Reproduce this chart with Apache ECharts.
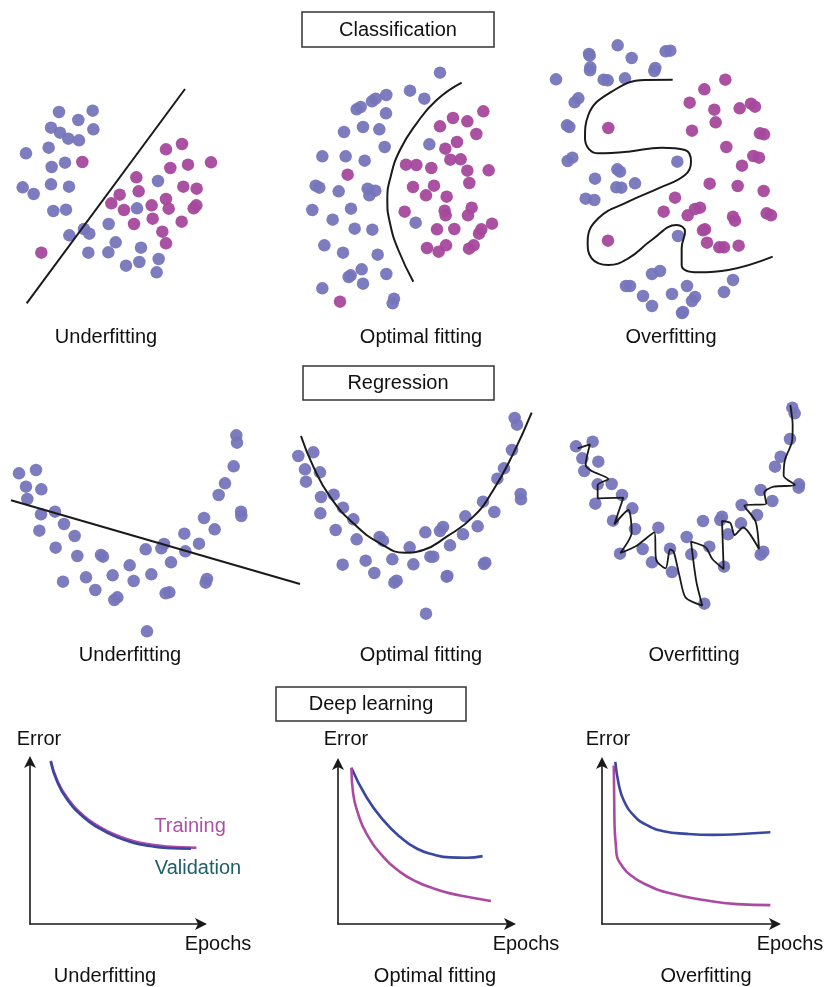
<!DOCTYPE html>
<html>
<head>
<meta charset="utf-8">
<script src="https://cdn.jsdelivr.net/npm/echarts@6/dist/echarts.min.js"></script>
<style>html,body{margin:0;padding:0;background:#fff}#c{width:826px;height:987px}</style>
</head>
<body>
<div id="c"></div>
<script>
// ---------- Classification: underfitting ----------
const clsUnderBlue = [[177,96],[235,120],[278,92],[153,143],[180,158],[205,176],[237,181],[280,148],[78,220],[146,203],[155,261],[195,248],[68,322],[101,342],[153,313],[207,320],[160,393],[198,389],[252,447],[268,461],[208,466],[265,518],[325,517],[326,432],[347,487],[411,385],[474,303],[423,503],[418,546],[378,557],[476,537],[470,577]];
const clsUnderPurple = [[247,246],[498,208],[546,192],[511,264],[564,254],[633,247],[409,292],[416,334],[359,344],[334,370],[372,390],[402,432],[455,376],[458,416],[498,357],[506,386],[550,320],[590,326],[589,376],[581,385],[545,425],[487,455],[498,490],[124,518]];
const clsUnderLine = [[80,670],[555,27]];
// ---------- Classification: optimal ----------
const clsOptBlue = [[450,38],[360,92],[403,116],[289,105],[246,124],[257,116],[200,148],[212,141],[288,160],[162,216],[219,201],[268,208],[284,261],[418,253],[97,289],[167,289],[224,302],[77,377],[88,383],[146,394],[233,386],[256,392],[238,406],[67,450],[183,446],[128,479],[194,506],[247,509],[377,488],[103,556],[159,578],[263,584],[215,628],[176,651],[182,646],[289,642],[219,671],[97,685],[312,716],[308,730]];
const clsOptPurple = [[173,344],[150,725],[580,154],[489,174],[532,184],[450,199],[559,222],[501,246],[466,266],[481,299],[512,298],[532,332],[596,331],[348,314],[379,315],[424,324],[538,369],[369,381],[432,377],[408,406],[470,410],[344,455],[464,452],[467,466],[545,443],[534,466],[441,508],[493,507],[574,508],[567,521],[606,491],[411,564],[446,575],[468,556],[537,566],[551,556]];
const clsOptCurve = [[515,68],[440,120],[380,190],[330,270],[302,350],[292,420],[300,490],[325,570],[370,665]];
// ---------- Classification: overfitting ----------
const clsOverBlue = [[218,31],[132,57],[134,62],[260,69],[362,49],[376,47],[136,97],[135,106],[176,134],[188,136],[240,130],[331,99],[328,108],[33,133],[100,190],[89,202],[66,271],[73,276],[68,378],[82,368],[397,380],[217,403],[225,410],[150,431],[270,445],[214,457],[229,458],[122,491],[148,495],[399,603],[321,717],[345,708],[243,753],[255,753],[294,783],[321,813],[381,777],[426,753],[450,786],[441,798],[411,834],[414,831],[537,771],[564,735]];
const clsOverPurple = [[541,134],[478,163],[434,203],[508,224],[584,220],[618,206],[630,215],[512,262],[441,287],[190,279],[645,295],[657,298],[544,336],[625,363],[642,368],[591,392],[494,446],[578,453],[656,468],[390,488],[356,530],[428,541],[450,522],[465,518],[564,545],[570,557],[665,535],[678,541],[480,583],[474,586],[486,623],[523,637],[537,637],[581,632],[189,617]];
const clsOverCurve = [[383,134],[300,135],[200,170],[130,240],[120,310],[160,355],[250,350],[350,338],[420,345],[438,380],[420,420],[340,460],[250,500],[160,550],[128,620],[140,670],[190,690],[250,670],[320,615],[395,570],[420,590],[410,640],[410,690],[460,712],[550,705],[683,665]];
// ---------- Regression: underfitting ----------
const regUnderPts = [[57,160],[108,150],[78,200],[124,208],[82,237],[123,283],[165,275],[118,332],[192,312],[224,348],[167,383],[232,408],[303,405],[309,410],[189,485],[258,472],[286,510],[338,466],[389,436],[401,483],[343,540],[352,532],[437,388],[484,385],[492,372],[513,427],[454,463],[497,520],[508,517],[553,341],[556,394],[597,371],[612,294],[644,328],[656,225],[675,190],[701,139],[709,46],[711,68],[723,275],[724,288],[617,488],[621,477],[441,634]];
const regUnderLine = [[33,241],[900,492]];
// ---------- Regression: optimal ----------
const regOptPts = [[55,168],[100,157],[75,208],[120,217],[78,245],[123,291],[161,284],[121,340],[189,323],[220,358],[167,390],[230,418],[299,411],[309,422],[188,494],[257,482],[283,519],[337,478],[389,442],[400,493],[343,548],[350,542],[436,397],[480,393],[489,381],[510,436],[451,470],[460,470],[500,530],[502,528],[549,403],[556,349],[593,379],[609,305],[643,336],[652,236],[672,205],[696,150],[704,54],[711,74],[722,282],[723,298],[612,492],[616,488],[438,641]];
const regOptCurve = [[63,108],[100,200],[150,290],[220,370],[300,430],[375,458],[430,450],[500,410],[580,350],[640,270],[700,160],[755,38]];
// ---------- Regression: overfitting ----------
const regOverPts = [[63,154],[113,140],[82,190],[130,200],[88,228],[128,268],[170,267],[121,326],[201,300],[232,340],[174,377],[240,402],[310,398],[195,476],[263,462],[291,502],[345,461],[351,531],[395,426],[409,478],[444,378],[463,455],[448,626],[496,375],[501,365],[519,418],[507,515],[560,330],[558,385],[606,360],[617,285],[652,318],[660,215],[677,185],[705,132],[712,38],[719,55],[732,268],[731,278],[617,479],[625,470]];
const regOverCurve = [[68,160],[105,148],[92,210],[110,228],[160,252],[128,270],[128,310],[205,308],[178,388],[220,345],[230,412],[196,474],[245,452],[298,412],[304,496],[332,520],[345,463],[356,470],[374,545],[392,608],[442,632],[424,560],[408,440],[452,457],[472,492],[506,522],[501,378],[526,384],[539,420],[564,397],[612,462],[602,380],[568,332],[634,326],[628,292],[656,275],[720,270],[686,242],[690,194],[711,140],[713,90],[706,30]];
// ---------- Deep learning ----------
const dlUnderTrain = [[12,99.6],[15.4,88.4],[21.2,77.4],[30.8,66.2],[40.4,59.1],[50,54.1],[59.6,50.6],[69.2,48.6],[78.8,47.2],[96.2,46.5]];
const dlUnderVal = [[12,99],[15.4,87.6],[21.2,76.4],[30.8,65.2],[40.4,58.1],[50,53.1],[59.6,49.6],[69.2,47.6],[78.8,46.3],[93,45.9]];
const dlOptVal = [[7.7,96.5],[16.3,78.4],[26,64.1],[35.6,53.8],[45.2,46.6],[54.8,42.9],[64.4,41.1],[74,40.9],[83.1,41.9]];
const dlOptTrain = [[7.7,96.5],[8.7,80.5],[11.5,68.2],[16.3,55.9],[26,41.5],[35.6,32.2],[45.2,26.1],[54.8,22],[64.4,18.9],[74,16.8],[87.9,14.2]];
const dlOverVal = [[7.6,99.4],[9.5,86.1],[12.4,75.9],[18.1,66.7],[25.7,60.6],[35.2,56.9],[48.6,55.3],[63.8,54.7],[77.1,55.1],[96.2,56.3]];
const dlOverTrain = [[6.7,97.3],[6.9,84.1],[7,73.9],[7.2,59.6],[8,47.3],[8.6,41.2],[10.5,37.1],[16.2,30],[25.7,23.9],[39,18.8],[58.1,14.7],[77.1,12.2],[96.2,11.6]];

const sectionTitles = ['Classification','Regression','Deep learning'];
const panelTitles = ['Underfitting','Optimal fitting','Overfitting'];

const BLUE = '#7575bb', PURPLE = '#a5489c', LINE = '#1a1a1a';
const VAL = '#3a47a2', TRAIN = '#aa4aa2';
const FONT = "'Liberation Sans', Arial, Helvetica, sans-serif";
const DOT = 12.5;

// scatter panel grids: [left, top, width, height, xmax, ymax]
const scatterGrids = [
  [0,80,230,230,690,690],
  [290,60,230,250,690,750],
  [545,35,281,290,843,870],
  [0,420,300,220,900,660],
  [280,400,260,230,780,690],
  [555,395,260,220,780,660]
];
const dlGrids = [[30,760,173,164],[338,762,174,162],[602,761,175,163]];

const grid = [], xAxis = [], yAxis = [], series = [];
scatterGrids.forEach((g,i)=>{
  grid.push({left:g[0],top:g[1],width:g[2],height:g[3]});
  xAxis.push({type:'value',gridIndex:i,min:0,max:g[4],show:false});
  yAxis.push({type:'value',gridIndex:i,min:0,max:g[5],inverse:true,show:false});
});
dlGrids.forEach((g,j)=>{
  const i = scatterGrids.length + j;
  grid.push({left:g[0],top:g[1],width:g[2],height:g[3]});
  const axLine = {show:true,onZero:false,symbol:['none','arrow'],symbolSize:[9,12],symbolOffset:[0,4],lineStyle:{color:'#1a1a1a',width:1.6}};
  xAxis.push({type:'value',gridIndex:i,min:0,max:100,axisLine:axLine,axisTick:{show:false},axisLabel:{show:false},splitLine:{show:false}});
  yAxis.push({type:'value',gridIndex:i,min:0,max:100,axisLine:axLine,axisTick:{show:false},axisLabel:{show:false},splitLine:{show:false}});
});

function dots(data, color, gi){
  series.push({type:'scatter',xAxisIndex:gi,yAxisIndex:gi,data,symbol:'circle',symbolSize:DOT,itemStyle:{color,opacity:0.95},silent:true,z:2});
}
function curve(data, gi, smooth, color, width){
  series.push({type:'line',xAxisIndex:gi,yAxisIndex:gi,data,showSymbol:false,smooth,lineStyle:{color:color||LINE,width:width||2},silent:true,z:3});
}
dots(clsUnderBlue,BLUE,0); dots(clsUnderPurple,PURPLE,0); curve(clsUnderLine,0,false);
dots(clsOptBlue,BLUE,1); dots(clsOptPurple,PURPLE,1); curve(clsOptCurve,1,true);
dots(clsOverBlue,BLUE,2); dots(clsOverPurple,PURPLE,2); curve(clsOverCurve,2,0.45);
dots(regUnderPts,BLUE,3); curve(regUnderLine,3,false);
dots(regOptPts,BLUE,4); curve(regOptCurve,4,true);
dots(regOverPts,BLUE,5); curve(regOverCurve,5,0.25,LINE,1.8);
curve(dlUnderTrain,6,true,TRAIN,2.6); curve(dlUnderVal,6,true,VAL,2.6);
curve(dlOptVal,7,true,VAL,2.6); curve(dlOptTrain,7,true,TRAIN,2.6);
curve(dlOverVal,8,true,VAL,2.6); curve(dlOverTrain,8,true,TRAIN,2.6);

function txt(s,x,y,opts){
  opts = opts||{};
  return {type:'text',x,y,silent:true,z:10,style:{text:s,font:(opts.size||20)+'px '+FONT,fill:opts.color||'#111',
    align:opts.align||'center',verticalAlign:'middle',textAlign:opts.align||'center',textVerticalAlign:'middle'}};
}
function box(x,y,w,h){
  return {type:'rect',shape:{x,y,width:w,height:h},silent:true,z:9,style:{fill:'#fff',stroke:'#333',lineWidth:1.5}};
}
const graphic = [
  box(302,12,192,35), txt(sectionTitles[0],398,30),
  box(303,366,191,34), txt(sectionTitles[1],398,383),
  box(276,687,190,34), txt(sectionTitles[2],371,704),
  txt(panelTitles[0],106,337), txt(panelTitles[1],421,337), txt(panelTitles[2],671,337),
  txt(panelTitles[0],130,655), txt(panelTitles[1],421,655), txt(panelTitles[2],694,655),
  txt(panelTitles[0],105,976), txt(panelTitles[1],435,976), txt(panelTitles[2],706,976),
  txt('Error',39,739), txt('Error',346,739), txt('Error',608,739),
  txt('Epochs',218,944), txt('Epochs',526,944), txt('Epochs',790,944),
  txt('Training',190,826,{color:'#b04fa8'}), txt('Validation',198,868,{color:'#1c5f6b'})
];

const chart = echarts.init(document.getElementById('c'),null,{renderer:'canvas'});
chart.setOption({animation:false,backgroundColor:'#fff',grid,xAxis,yAxis,series,graphic});
</script>
</body>
</html>
